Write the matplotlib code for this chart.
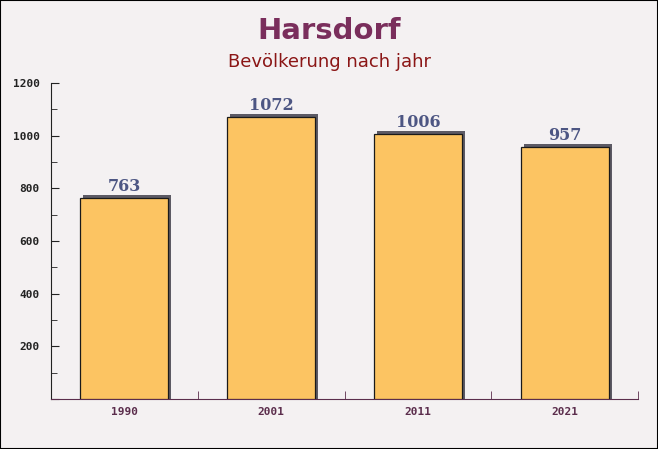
import matplotlib
matplotlib.use('Agg')
import matplotlib.pyplot as plt
import matplotlib.transforms as mtransforms
import numpy as np

years = ['1990', '2001', '2011', '2021']
population = [763, 1072, 1006, 957]
title = 'Harsdorf'
subtitle = 'Bevölkerung nach jahr'

fig = plt.figure(figsize=(6.58, 4.49), dpi=100)
fig.patch.set_facecolor('#f4f1f2')
ax = fig.add_axes([51 / 658, 50 / 449, 587 / 658, 316 / 449])
ax.set_facecolor('none')

x = np.arange(len(years))
# shadow bars, shifted a few pixels right and up; start below 0 so the
# clipped bottom still reaches the axis line
shadow = mtransforms.offset_copy(ax.transData, fig=fig, x=3, y=3, units='dots')
pad = 30
ax.bar(x, [v + pad for v in population], bottom=-pad, width=0.6,
       color='#5c5a64', transform=shadow, zorder=2)
ax.bar(x, population, width=0.6, color='#fcc462', edgecolor='#1a1a1a',
       linewidth=0.9, zorder=3)

for xi, v in zip(x, population):
    ax.text(xi, v + 12, str(v), ha='center', va='bottom', fontsize=11.5,
            fontweight='bold', family='DejaVu Serif', color='#4d5683', zorder=4)

ax.set_xlim(-0.5, len(years) - 0.5)
ax.set_ylim(0, 1200)
ax.set_yticks(range(0, 1201, 200))
ax.set_yticklabels(['', '200', '400', '600', '800', '1000', '1200'])
ax.set_yticks(range(100, 1200, 200), minor=True)
ax.set_xticks(x)
ax.set_xticklabels(years)
ax.set_xticks(np.arange(0.5, len(years), 1.0), minor=True)

axis_col = '#5b2d4c'
for side in ['top', 'right']:
    ax.spines[side].set_visible(False)
ax.spines['left'].set_color('#222222')
ax.spines['bottom'].set_color(axis_col)
ax.tick_params(axis='y', which='both', direction='in', length=6, colors='#222222',
               labelsize=8, pad=8)
ax.tick_params(axis='y', which='minor', length=4)
ax.tick_params(axis='x', which='major', length=0, pad=6, labelsize=8,
               labelcolor=axis_col)
ax.tick_params(axis='x', which='minor', direction='in', length=6, color=axis_col)
for lab in ax.get_yticklabels() + ax.get_xticklabels():
    lab.set_family('DejaVu Sans Mono')
    lab.set_fontweight('bold')

fig.text(0.5, 0.932, title, ha='center', va='center', fontsize=21,
         fontweight='bold', color='#7a2e5c')
fig.text(0.5, 0.862, subtitle, ha='center', va='center', fontsize=13,
         color='#8b1616')

border = plt.Rectangle((0, 0), 1, 1, transform=fig.transFigure, fill=False,
                       edgecolor='black', linewidth=1.5)
fig.patches.append(border)

fig.savefig('out.png', dpi=100, facecolor=fig.get_facecolor())
